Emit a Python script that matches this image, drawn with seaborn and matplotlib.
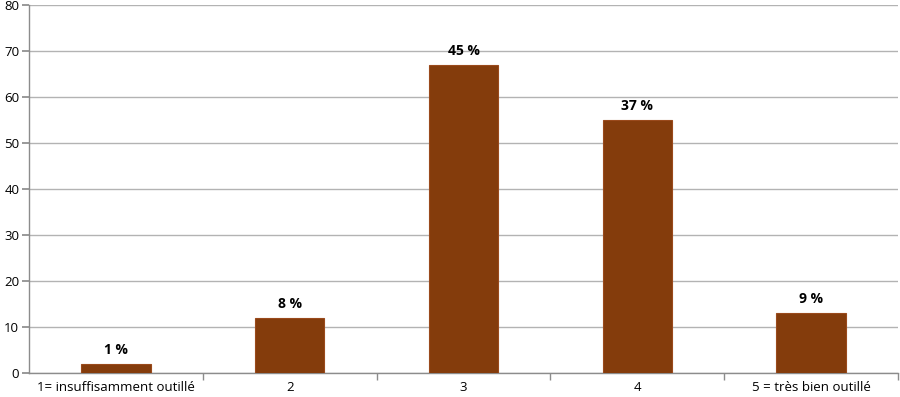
import matplotlib
matplotlib.use("Agg")
import matplotlib.pyplot as plt
import seaborn as sns
import pandas as pd
from matplotlib.ticker import FixedLocator

categories = ["1= insuffisamment outillé", "2", "3", "4", "5 = très bien outillé"]
values = [2, 12, 67, 55, 13]
pct_labels = ["1 %", "8 %", "45 %", "37 %", "9 %"]

sns.set_theme(style="white")
plt.rcParams['font.family'] = ['Open Sans', 'DejaVu Sans']
plt.rcParams['text.color'] = 'black'
plt.rcParams['xtick.labelcolor'] = 'black'
plt.rcParams['ytick.labelcolor'] = 'black'

df = pd.DataFrame({"cat": categories, "val": values})
fig = plt.figure(figsize=(9, 3.97), dpi=100)
ax = fig.add_axes([29/900, 24/397, 869/900, 368/397])
sns.barplot(data=df, x="cat", y="val", color="#843C0C", width=0.4,
            edgecolor="#9a4a1c", linewidth=0.8, saturation=1, ax=ax, zorder=3)
ax.set_ylim(0, 80)
ax.set_xlim(-0.5, 4.5)
ax.set_yticks(range(0, 81, 10))
ax.yaxis.grid(True, color="#b3b3b3", linewidth=1)
ax.set_axisbelow(True)
ax.set_xlabel("")
ax.set_ylabel("")
for s in ["top", "right"]:
    ax.spines[s].set_visible(False)
for s in ["left", "bottom"]:
    ax.spines[s].set_color("#8c8c8c")
    ax.spines[s].set_linewidth(1)
ax.tick_params(axis="y", length=5, color="#8c8c8c", labelsize=9.5, pad=2, left=True, labelcolor="black")
ax.tick_params(axis="x", which="major", length=0, labelsize=9.5, pad=6, labelcolor="black")
ax.xaxis.set_minor_locator(FixedLocator([0.5, 1.5, 2.5, 3.5, 4.5]))
ax.tick_params(axis="x", which="minor", length=5, color="#8c8c8c", bottom=True)
for i, (v, lab) in enumerate(zip(values, pct_labels)):
    ax.annotate(lab, (i, v), xytext=(0, 5), textcoords="offset points",
                ha="center", va="bottom", fontsize=10, fontweight="bold", color="black")
fig.savefig("out.png", dpi=100)
